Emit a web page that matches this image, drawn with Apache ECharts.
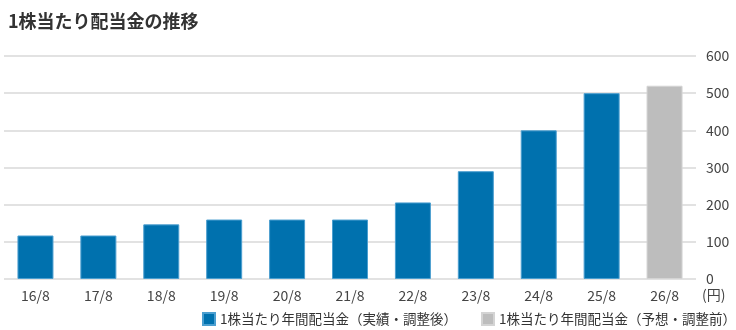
<!DOCTYPE html>
<html><head><meta charset="utf-8">
<script src="https://cdn.jsdelivr.net/npm/echarts@6/dist/echarts.min.js"></script>
<style>html,body{margin:0;padding:0;background:#fff}#c{width:736px;height:330px}</style>
</head><body><div id="c"></div>
<script>
const categories = ['16/8','17/8','18/8','19/8','20/8','21/8','22/8','23/8','24/8','25/8','26/8'];
const actualValues = [117, 117, 147, 160, 160, 160, 206, 290, 400, 500, '-'];
const forecastValues = ['-', '-', '-', '-', '-', '-', '-', '-', '-', '-', 520];
const yTicks = [0, 100, 200, 300, 400, 500, 600];
const seriesNames = ['1株当たり年間配当金（実績・調整後）', '1株当たり年間配当金（予想・調整前）'];
const titleText = '1株当たり配当金の推移';
const unitText = '(円)';
const FONT = '"Noto Sans CJK JP","Noto Sans",sans-serif';

const chart = echarts.init(document.getElementById('c'), null, {renderer:'canvas'});
chart.setOption({
  animation:false,
  textStyle:{fontFamily:FONT},
  title:{text:titleText,left:3,top:7,textStyle:{fontFamily:FONT,fontSize:18,fontWeight:'bold',color:'#333'}},
  grid:{left:4,right:40,top:56,bottom:51},
  legend:{left:202,top:312,padding:0,itemWidth:12,itemHeight:12,itemGap:24,icon:'rect',
    width:600,
    textStyle:{fontFamily:FONT,fontSize:13.5,color:'#333'},
    data:seriesNames},
  xAxis:{type:'category',data:categories,
    axisLine:{show:false},axisTick:{show:false},
    axisLabel:{color:'#444',fontSize:14,margin:10,fontFamily:FONT}},
  yAxis:{type:'value',position:'right',min:yTicks[0],max:yTicks[yTicks.length-1],interval:100,
    axisLine:{show:false},axisTick:{show:false},
    axisLabel:{color:'#444',fontSize:14,margin:10,fontFamily:FONT},
    splitLine:{lineStyle:{color:'#d9d9d9',width:1.5}}},
  graphic:[{type:'text',left:702,top:288,style:{text:unitText,fill:'#444',font:'14px '+FONT}}],
  series:[
    {name:seriesNames[0],type:'bar',stack:'s',data:actualValues,barWidth:36,
      itemStyle:{color:'#0071ae',borderColor:'#4b9fd0',borderWidth:1}},
    {name:seriesNames[1],type:'bar',stack:'s',data:forecastValues,barWidth:36,
      itemStyle:{color:'#bdbdbd',borderColor:'#d4d4d4',borderWidth:1}}
  ]
});
</script></body></html>
